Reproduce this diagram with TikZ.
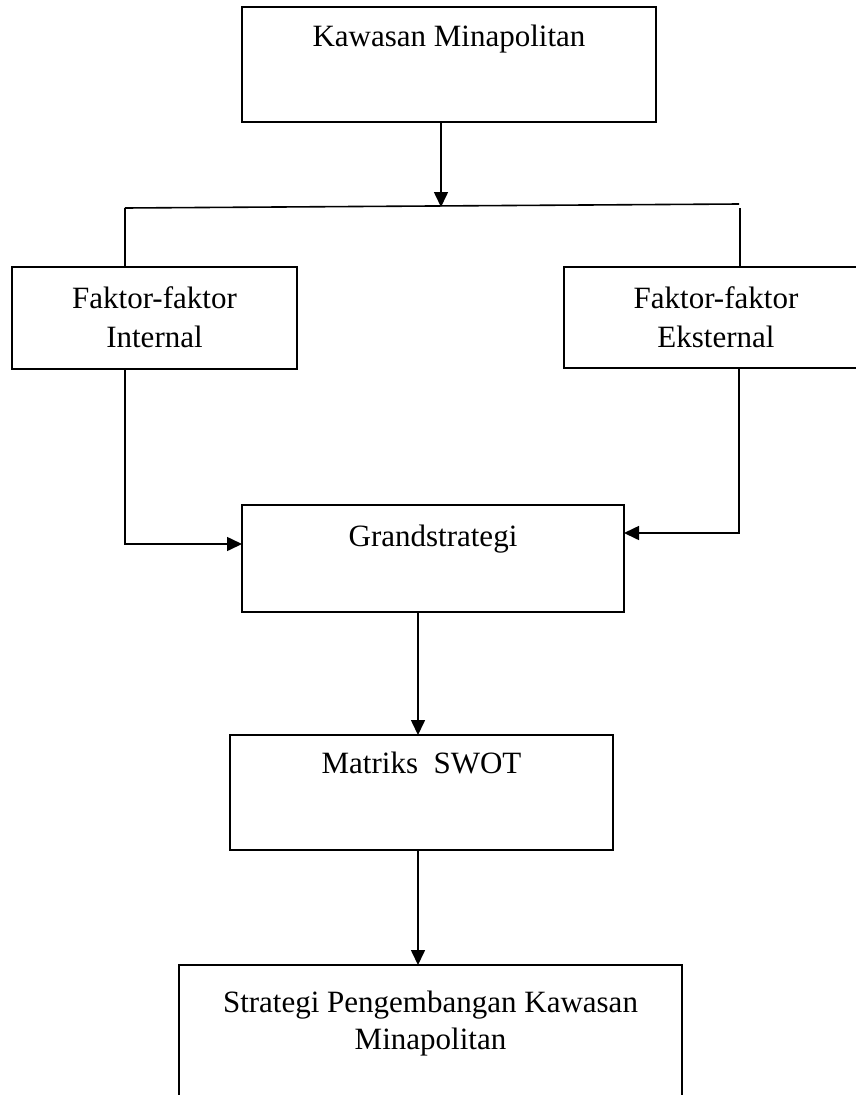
\documentclass[tikz,border=0pt]{standalone}
\usepackage{fontspec}
\setmainfont{Liberation Serif}
\usetikzlibrary{arrows.meta}
\begin{document}
\begin{tikzpicture}[x=1pt,y=-1pt,line width=1.6pt,
  box/.style={draw, rectangle, inner sep=0pt, outer sep=0pt},
  lbl/.style={anchor=base, inner sep=0pt, font=\fontsize{31}{39}\selectfont},
  arr/.style={-{Triangle[length=15pt,width=14pt]}}]
\useasboundingbox (0,0) rectangle (856,1095);
\clip (0,0) rectangle (856,1095);
% boxes
\node[box, minimum width=414pt, minimum height=115pt] (top) at (449,64.5) {};
\node[box, minimum width=285pt, minimum height=102pt] (left) at (154.5,318) {};
\node[box, minimum width=296pt, minimum height=101pt] (right) at (712,317.5) {};
\node[box, minimum width=382pt, minimum height=107pt] (grand) at (433,558.5) {};
\node[box, minimum width=383pt, minimum height=115pt] (swot) at (421.5,792.5) {};
\node[box, minimum width=503pt, minimum height=150pt] (bot) at (430.5,1040) {};
% labels
\node[lbl] (t1) at (449,46) {Kawasan Minapolitan};
\node[lbl] (t2a) at (154.5,308) {Faktor-faktor};
\node[lbl] (t2b) at (154.5,347) {Internal};
\node[lbl] (t3a) at (716,308) {Faktor-faktor};
\node[lbl] (t3b) at (716,347) {Eksternal};
\node[lbl] (t4) at (433,546) {Grandstrategi};
\node[lbl] (t5) at (421.5,773) {Matriks\ \ SWOT};
\node[lbl] (t6a) at (430.5,1012) {Strategi Pengembangan Kawasan};
\node[lbl] (t6b) at (430.5,1049) {Minapolitan};
% connectors
\coordinate (a1) at (441,207);
\coordinate (jl) at (125,208);
\coordinate (jr) at (739,204);
\coordinate (jr2) at (740,208);
\coordinate (cl) at (125,544);
\coordinate (cr) at (739,533);
\coordinate (ax) at (418,0);
\draw[arr] (a1 |- top.south) -- (a1);
\draw (jl) -- (jr);
\draw (jl) -- (jl |- left.north);
\draw (jr2) -- (jr2 |- right.north);
\draw[arr] (cl |- left.south) -- (cl) -- (cl -| grand.west);
\draw[arr] (cr |- right.south) -- (cr) -- (cr -| grand.east);
\draw[arr] (ax |- grand.south) -- (ax |- swot.north);
\draw[arr] (ax |- swot.south) -- (ax |- bot.north);
\end{tikzpicture}
\end{document}
